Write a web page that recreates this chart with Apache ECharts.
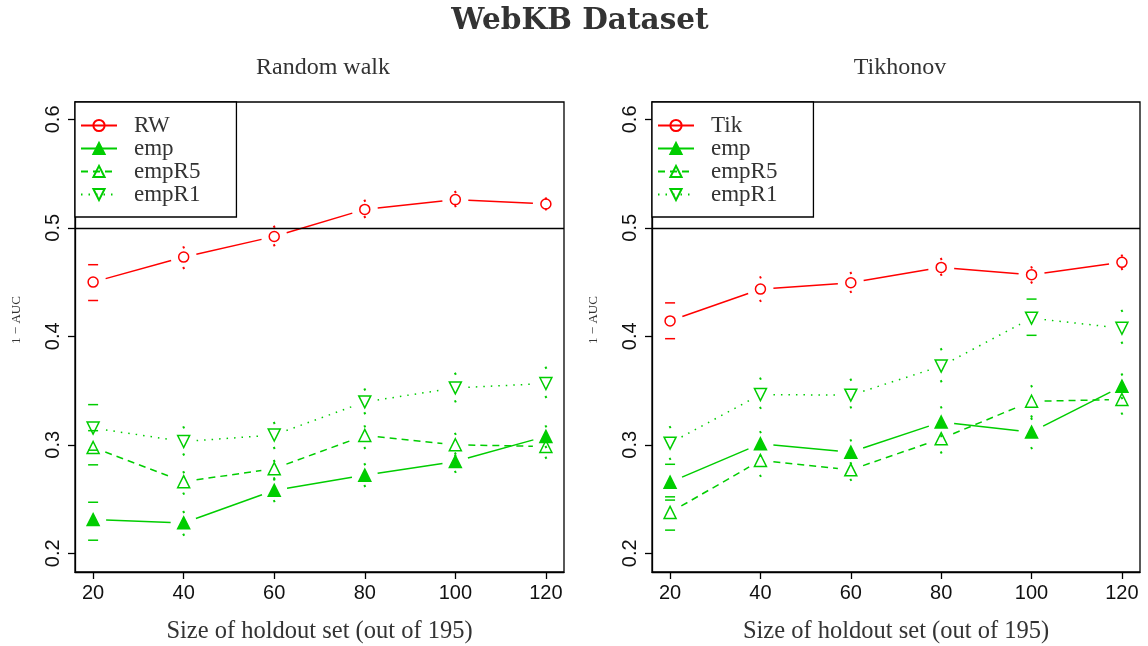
<!DOCTYPE html>
<html>
<head>
<meta charset="utf-8">
<script src="https://cdn.jsdelivr.net/npm/echarts@6/dist/echarts.min.js"></script>
<style>
  html, body { margin: 0; padding: 0; background: #fff; }
  #chart { width: 1148px; height: 646px; }
</style>
</head>
<body>
<div id="chart"></div>
<script>
// holdout sizes and tick labels
const sizes = [20, 40, 60, 80, 100, 120];
const xTicks = [20, 40, 60, 80, 100, 120];
const yTicks = [0.2, 0.3, 0.4, 0.5, 0.6];

// Random walk panel
const rwMean = [0.450, 0.473, 0.492, 0.517, 0.526, 0.522];
const rwLo = [0.433, 0.463, 0.484, 0.510, 0.520, 0.517];
const rwHi = [0.466, 0.482, 0.501, 0.525, 0.533, 0.527];
const rwEmp = [0.231, 0.228, 0.258, 0.272, 0.2845, 0.3077];
const rwEmpLo = [0.212, 0.217, 0.248, 0.262, 0.275, 0.298];
const rwEmpHi = [0.247, 0.238, 0.268, 0.282, 0.292, 0.317];
const rwR5 = [0.2975, 0.266, 0.278, 0.3086, 0.300, 0.2984];
const rwR5Lo = [0.2815, 0.255, 0.269, 0.297, 0.290, 0.288];
const rwR5Hi = [0.313, 0.2747, 0.285, 0.317, 0.310, 0.307];
const rwR1 = [0.3154, 0.303, 0.309, 0.3395, 0.3524, 0.3565];
const rwR1Lo = [0.295, 0.291, 0.297, 0.329, 0.340, 0.344];
const rwR1Hi = [0.337, 0.316, 0.320, 0.351, 0.3655, 0.371];

// Tikhonov panel
const tikMean = [0.4142, 0.4435, 0.4494, 0.4635, 0.4568, 0.4682];
const tikLo = [0.3978, 0.4327, 0.441, 0.4568, 0.4496, 0.462];
const tikHi = [0.4308, 0.4543, 0.4583, 0.4713, 0.4635, 0.4744];
const tikEmp = [0.2655, 0.3009, 0.2932, 0.321, 0.3117, 0.354];
const tikEmpLo = [0.249, 0.290, 0.283, 0.308, 0.2969, 0.343];
const tikEmpHi = [0.282, 0.3117, 0.304, 0.3345, 0.324, 0.3648];
const tikR5 = [0.2376, 0.2855, 0.2769, 0.3056, 0.3401, 0.3417];
const tikR5Lo = [0.2213, 0.2713, 0.2676, 0.2929, 0.326, 0.3287];
const tikR5Hi = [0.252, 0.298, 0.288, 0.318, 0.354, 0.354];
const tikR1 = [0.3015, 0.3463, 0.3457, 0.3725, 0.4167, 0.4074];
const tikR1Lo = [0.287, 0.334, 0.3345, 0.3586, 0.4009, 0.394];
const tikR1Hi = [0.3163, 0.361, 0.360, 0.388, 0.4343, 0.4234];

const RED = '#ff0000';
const GREEN = '#00cd00';
const SERIF = '"Liberation Serif", "DejaVu Serif", serif';
const SANS = '"Liberation Sans", Arial, sans-serif';
const GAP = 13; // R type="b": line stops short of each point

const chart = echarts.init(document.getElementById('chart'));

const pts = ys => sizes.map((x, i) => [x, ys[i]]);

// error bars: caps when the interval is wide, small dots otherwise
const errSeries = (idx, color, lo, hi) => ({
  type: 'custom',
  xAxisIndex: idx,
  yAxisIndex: idx,
  silent: true,
  z: 3,
  data: sizes.map((x, i) => [x, lo[i], hi[i]]),
  renderItem: (params, api) => {
    const x = api.value(0);
    const pLo = api.coord([x, api.value(1)]);
    const pHi = api.coord([x, api.value(2)]);
    const wide = (api.value(2) - api.value(1)) / 2 > 0.015;
    const w = wide ? 10 : 1;
    const h = wide ? 0 : 1;
    const style = { stroke: color, lineWidth: wide ? 1.5 : 2 };
    return {
      type: 'group',
      children: [
        { type: 'line', shape: { x1: pLo[0] - w / 2, y1: pLo[1] - h, x2: pLo[0] + w / 2, y2: pLo[1] + h }, style },
        { type: 'line', shape: { x1: pHi[0] - w / 2, y1: pHi[1] - h, x2: pHi[0] + w / 2, y2: pHi[1] + h }, style }
      ]
    };
  }
});

// connecting segments with gaps around the points
const gapSeries = (idx, ys, color, dash) => ({
  type: 'custom',
  xAxisIndex: idx,
  yAxisIndex: idx,
  silent: true,
  z: 3,
  data: sizes.slice(0, -1).map((x, i) => [x, ys[i], sizes[i + 1], ys[i + 1]]),
  renderItem: (params, api) => {
    const a = api.coord([api.value(0), api.value(1)]);
    const b = api.coord([api.value(2), api.value(3)]);
    const dx = b[0] - a[0], dy = b[1] - a[1];
    const len = Math.sqrt(dx * dx + dy * dy);
    const ux = dx / len, uy = dy / len;
    return {
      type: 'line',
      shape: { x1: a[0] + ux * GAP, y1: a[1] + uy * GAP, x2: b[0] - ux * GAP, y2: b[1] - uy * GAP },
      style: { stroke: color, lineWidth: 1.5, lineDash: dash === 'solid' ? null : dash }
    };
  }
});

const lineSeries = (idx, name, data, color, symbol, filled, dash, rotate) => ({
  type: 'line',
  name,
  xAxisIndex: idx,
  yAxisIndex: idx,
  data: pts(data),
  symbol,
  symbolRotate: rotate || 0,
  symbolSize: symbol === 'circle' ? 10 : 12,
  showAllSymbol: true,
  lineStyle: { color, width: 1.5, type: dash, opacity: 0 },
  itemStyle: { color: filled ? color : 'rgba(255,255,255,0)', borderColor: color, borderWidth: 1.5 },
  emphasis: { disabled: true },
  z: 4
});

const hLine = idx => ({
  type: 'line',
  xAxisIndex: idx,
  yAxisIndex: idx,
  data: [],
  markLine: {
    silent: true,
    symbol: 'none',
    label: { show: false },
    lineStyle: { color: '#000', width: 1.3, type: 'solid' },
    data: [{ yAxis: 0.5 }]
  }
});

const xAxis = idx => ({
  type: 'value',
  gridIndex: idx,
  min: 16,
  max: 124,
  name: 'Size of holdout set (out of 195)',
  nameLocation: 'middle',
  nameGap: 47,
  nameTextStyle: { fontFamily: SERIF, fontSize: 24.5, color: '#333' },
  axisLine: { lineStyle: { color: '#000', width: 1.3 } },
  axisTick: { customValues: xTicks, length: 7, lineStyle: { color: '#000', width: 1.3 } },
  axisLabel: { customValues: xTicks, margin: 11, fontFamily: SANS, fontSize: 20, color: '#111' },
  splitLine: { show: false }
});

const yAxis = idx => ({
  type: 'value',
  gridIndex: idx,
  min: 0.1827,
  max: 0.616,
  axisLine: { show: true, lineStyle: { color: '#000', width: 1.3 } },
  axisTick: { show: true, customValues: yTicks, length: 7, lineStyle: { color: '#000', width: 1.3 } },
  axisLabel: { customValues: yTicks, rotate: 90, margin: 12, fontFamily: SANS, fontSize: 20, color: '#111',
    formatter: v => v.toFixed(1) },
  splitLine: { show: false }
});

const legend = (left, names) => ({
  orient: 'vertical',
  left,
  top: 102,
  data: names,
  itemWidth: 36,
  itemHeight: 14,
  itemGap: 0,
  padding: [12, 36, 11, 5],
  borderColor: '#000',
  borderWidth: 1.3,
  borderRadius: 0,
  backgroundColor: '#fff',
  selectedMode: false,
  lineStyle: { opacity: 1 },
  textStyle: { fontFamily: SERIF, fontSize: 23, color: '#333', padding: [0, 0, 0, 12] }
});

const option = {
  animation: false,
  backgroundColor: '#fff',
  title: [
    { text: 'WebKB Dataset', left: 575, top: 1, textAlign: 'center',
      textStyle: { fontFamily: '"DejaVu Serif", serif', fontWeight: 'bold', fontSize: 29.5, color: '#333' } },
    { text: 'Random walk', left: 318, top: 51, textAlign: 'center',
      textStyle: { fontFamily: SERIF, fontWeight: 'normal', fontSize: 24, color: '#333' } },
    { text: 'Tikhonov', left: 895, top: 51, textAlign: 'center',
      textStyle: { fontFamily: SERIF, fontWeight: 'normal', fontSize: 24, color: '#333' } }
  ],
  legend: [
    Object.assign(legend(75, ['RW', 'emp', 'empR5', 'empR1']), { id: 'l0' }),
    Object.assign(legend(652, ['Tik', 'emp ', 'empR5 ', 'empR1 ']), { id: 'l1',
      formatter: n => n.trim() })
  ],
  grid: [
    { left: 75, top: 102, width: 489, height: 470, show: true, borderColor: '#000', borderWidth: 1.3,
      outerBoundsMode: 'none' },
    { left: 652, top: 102, width: 488, height: 470, show: true, borderColor: '#000', borderWidth: 1.3,
      outerBoundsMode: 'none' }
  ],
  xAxis: [xAxis(0), xAxis(1)],
  yAxis: [yAxis(0), yAxis(1)],
  graphic: [
    { type: 'text', x: 17, y: 320, rotation: Math.PI / 2,
      style: { text: '1 − AUC', fontFamily: SERIF, fontSize: 13, fill: '#333', align: 'center', verticalAlign: 'middle' } },
    { type: 'text', x: 594, y: 320, rotation: Math.PI / 2,
      style: { text: '1 − AUC', fontFamily: SERIF, fontSize: 13, fill: '#333', align: 'center', verticalAlign: 'middle' } }
  ],
  series: [
    hLine(0),
    hLine(1),
    errSeries(0, RED, rwLo, rwHi),
    errSeries(0, GREEN, rwEmpLo, rwEmpHi),
    errSeries(0, GREEN, rwR5Lo, rwR5Hi),
    errSeries(0, GREEN, rwR1Lo, rwR1Hi),
    errSeries(1, RED, tikLo, tikHi),
    errSeries(1, GREEN, tikEmpLo, tikEmpHi),
    errSeries(1, GREEN, tikR5Lo, tikR5Hi),
    errSeries(1, GREEN, tikR1Lo, tikR1Hi),
    gapSeries(0, rwMean, RED, 'solid'),
    gapSeries(0, rwEmp, GREEN, 'solid'),
    gapSeries(0, rwR5, GREEN, [7, 5]),
    gapSeries(0, rwR1, GREEN, [1.5, 6]),
    gapSeries(1, tikMean, RED, 'solid'),
    gapSeries(1, tikEmp, GREEN, 'solid'),
    gapSeries(1, tikR5, GREEN, [7, 5]),
    gapSeries(1, tikR1, GREEN, [1.5, 6]),
    lineSeries(0, 'RW', rwMean, RED, 'circle', false, 'solid'),
    lineSeries(0, 'emp', rwEmp, GREEN, 'triangle', true, 'solid'),
    lineSeries(0, 'empR5', rwR5, GREEN, 'triangle', false, [7, 5]),
    lineSeries(0, 'empR1', rwR1, GREEN, 'triangle', false, [1.5, 6], 180),
    lineSeries(1, 'Tik', tikMean, RED, 'circle', false, 'solid'),
    lineSeries(1, 'emp ', tikEmp, GREEN, 'triangle', true, 'solid'),
    lineSeries(1, 'empR5 ', tikR5, GREEN, 'triangle', false, [7, 5]),
    lineSeries(1, 'empR1 ', tikR1, GREEN, 'triangle', false, [1.5, 6], 180)
  ]
};

chart.setOption(option);
</script>
</body>
</html>
